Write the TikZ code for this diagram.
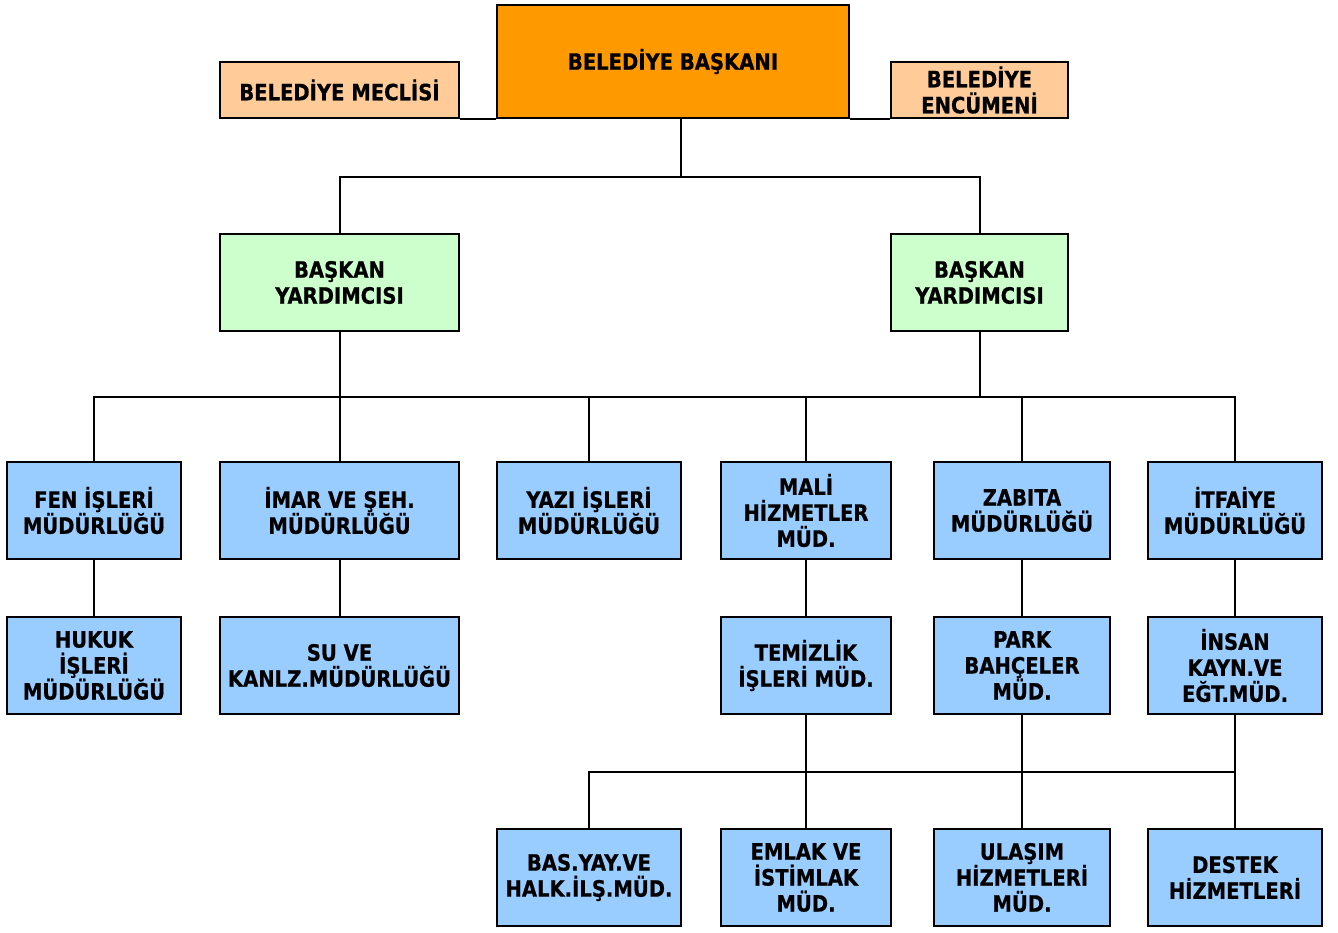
\documentclass[tikz,border=0pt]{standalone}
\usepackage{fontspec}
\setmainfont{DejaVu Sans}
\newfontfamily\boxfont{DejaVu Sans}[FakeStretch=0.87,BoldFeatures={FakeBold=0.6}]
\definecolor{orgC}{HTML}{FF9900}
\definecolor{peachC}{HTML}{FFCC99}
\definecolor{greenC}{HTML}{CCFFCC}
\definecolor{blueC}{HTML}{99CCFF}
\begin{document}
\begin{tikzpicture}[x=1pt,y=-1pt,
  box/.style={draw=black,line width=2pt,rectangle,inner sep=0pt,align=center,
    font=\boxfont\fontsize{22.5}{26}\selectfont\bfseries},
  orgbox/.style={box,fill=orgC},
  peachbox/.style={box,fill=peachC},
  greenbox/.style={box,fill=greenC},
  bluebox/.style={box,fill=blueC},
  conn/.style={draw=black,line width=2pt}]
\useasboundingbox[fill=white] (0,0) rectangle (1338,932);
% top
\node[orgbox,minimum width=352pt,minimum height=113pt] (baskan) at (673,61.5) {BELEDİYE BAŞKANI};
\node[peachbox,minimum width=239pt,minimum height=56pt] (meclis) at (339.5,90) {BELEDİYE MECLİSİ};
\node[peachbox,minimum width=177pt,minimum height=56pt] (encumen) at (979.5,90) {BELEDİYE\\ENCÜMENİ};
% deputies
\node[greenbox,minimum width=239pt,minimum height=97pt] (by1) at (339.5,282.5) {BAŞKAN\\YARDIMCISI};
\node[greenbox,minimum width=177pt,minimum height=97pt] (by2) at (979.5,282.5) {BAŞKAN\\YARDIMCISI};
% row 3
\node[bluebox,minimum width=174pt,minimum height=97pt] (fen) at (94,510.5) {FEN İŞLERİ\\MÜDÜRLÜĞÜ};
\node[bluebox,minimum width=239pt,minimum height=97pt] (imar) at (339.5,510.5) {İMAR VE ŞEH.\\MÜDÜRLÜĞÜ};
\node[bluebox,minimum width=184pt,minimum height=97pt] (yazi) at (589,510.5) {YAZI İŞLERİ\\MÜDÜRLÜĞÜ};
\node[bluebox,minimum width=170pt,minimum height=97pt] (mali) at (806,510.5) {MALİ\\HİZMETLER\\MÜD.};
\node[bluebox,minimum width=176pt,minimum height=97pt] (zabita) at (1022,510.5) {ZABITA\\MÜDÜRLÜĞÜ};
\node[bluebox,minimum width=174pt,minimum height=97pt] (itfaiye) at (1235,510.5) {İTFAİYE\\MÜDÜRLÜĞÜ};
% row 4
\node[bluebox,minimum width=174pt,minimum height=97pt] (hukuk) at (94,665.5) {HUKUK\\İŞLERİ\\MÜDÜRLÜĞÜ};
\node[bluebox,minimum width=239pt,minimum height=97pt] (su) at (339.5,665.5) {SU VE\\KANLZ.MÜDÜRLÜĞÜ};
\node[bluebox,minimum width=170pt,minimum height=97pt] (temizlik) at (806,665.5) {TEMİZLİK\\İŞLERİ MÜD.};
\node[bluebox,minimum width=176pt,minimum height=97pt] (park) at (1022,665.5) {PARK\\BAHÇELER\\MÜD.};
\node[bluebox,minimum width=174pt,minimum height=97pt] (insan) at (1235,665.5) {İNSAN\\KAYN.VE\\EĞT.MÜD.};
% row 5
\node[bluebox,minimum width=184pt,minimum height=97pt] (basyay) at (589,877.5) {BAS.YAY.VE\\HALK.İLŞ.MÜD.};
\node[bluebox,minimum width=170pt,minimum height=97pt] (emlak) at (806,877.5) {EMLAK VE\\İSTİMLAK\\MÜD.};
\node[bluebox,minimum width=176pt,minimum height=97pt] (ulasim) at (1022,877.5) {ULAŞIM\\HİZMETLERİ\\MÜD.};
\node[bluebox,minimum width=174pt,minimum height=97pt] (destek) at (1235,877.5) {DESTEK\\HİZMETLERİ};
% junctions
\coordinate (j1) at (681,177);
\coordinate (j2) at (339.5,397);
\coordinate (j3) at (806,772);
% connectors
\draw[conn] (meclis.south east) -- (baskan.south west);
\draw[conn] (baskan.south east) -- (encumen.south west);
\draw[conn] (baskan.south -| j1) -- (j1);
\draw[conn] (by1.north) |- (j1) -| (by2.north);
\draw[conn] (by1.south) -- (j2);
\draw[conn] (by2.south) -- (by2.south |- j2);
\draw[conn] (fen.north) |- (j2) -| (itfaiye.north);
\draw[conn] (imar.north) -- (j2);
\draw[conn] (yazi.north) -- (yazi.north |- j2);
\draw[conn] (mali.north) -- (mali.north |- j2);
\draw[conn] (zabita.north) -- (zabita.north |- j2);
\draw[conn] (fen) -- (hukuk);
\draw[conn] (imar) -- (su);
\draw[conn] (mali) -- (temizlik);
\draw[conn] (zabita) -- (park);
\draw[conn] (itfaiye) -- (insan);
\draw[conn] (temizlik) -- (emlak);
\draw[conn] (park) -- (ulasim);
\draw[conn] (insan) -- (destek);
\draw[conn] (basyay.north) |- (j3) -| (insan.south |- j3);
\end{tikzpicture}
\end{document}
